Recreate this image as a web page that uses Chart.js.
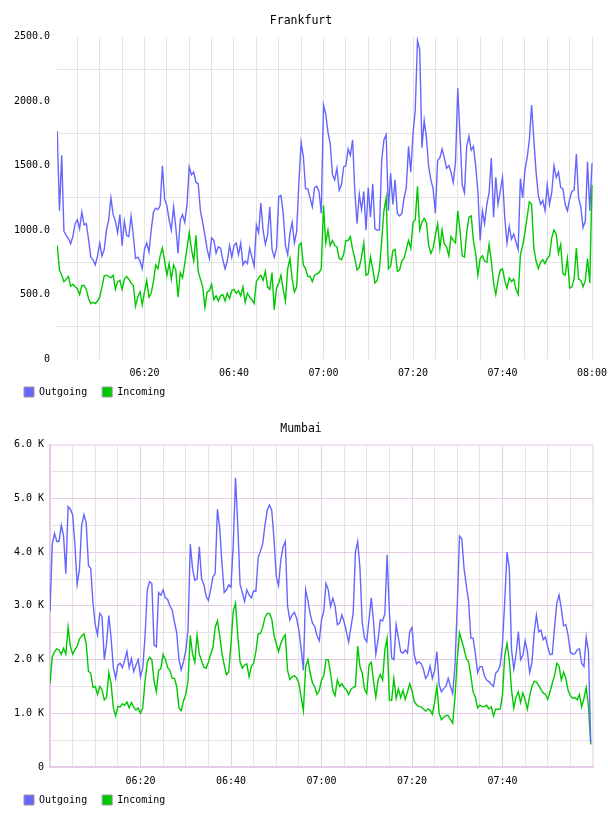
<!DOCTYPE html>
<html>
<head>
<meta charset="utf-8">
<title>Traffic - Frankfurt / Mumbai</title>
<script src="https://cdn.jsdelivr.net/npm/chart.js@4.4.1/dist/chart.umd.min.js"></script>
<style>
  html, body { margin: 0; padding: 0; background: #fff; }
  canvas { display: block; }
</style>
</head>
<body>
<canvas id="chartFrankfurt" width="608" height="408"></canvas>
<canvas id="chartMumbai" width="608" height="408"></canvas>
<script>
// minutes after 06:00, one sample every 30 s
const fraTimes = Array.from({ length: 240 }, (_, i) => 0.5 + i * 0.5);
const mumTimes = Array.from({ length: 240 }, (_, i) => i * 0.5);

const seriesLabels = ["Outgoing", "Incoming"];
const seriesColors = ["#6666ff", "#00c800"];

const fraOut = [
  1770,1150,1580,990,960,935,895,950,1050,1080,
  1010,1140,1040,1050,930,790,770,730,800,900,
  800,850,1000,1080,1250,1120,1070,980,1120,880,
  1070,960,950,1110,960,780,790,760,700,850,
  900,830,1000,1140,1170,1160,1190,1500,1240,1190,
  1080,1000,1180,1020,820,1080,1120,1060,1200,1490,
  1430,1450,1370,1360,1150,1060,960,850,780,940,
  920,820,870,860,770,700,760,880,790,880,
  900,810,900,730,760,740,860,790,720,1040,
  980,1210,1000,890,960,1180,850,790,860,1260,
  1270,1130,880,810,976,1060,900,990,1370,1680,
  1570,1320,1320,1250,1180,1330,1340,1300,1130,1970,
  1900,1760,1670,1430,1390,1480,1310,1350,1490,1500,
  1630,1580,1700,1300,1050,1280,1160,1300,1000,1330,
  1100,1360,1010,1000,1000,1540,1700,1740,1150,1440,
  1200,1390,1130,1110,1130,1250,1330,1650,1450,1750,
  1930,2470,2400,1640,1850,1720,1490,1390,1320,1130,
  1540,1560,1630,1560,1480,1500,1450,1370,1530,2100,
  1740,1350,1290,1650,1730,1620,1650,1500,1300,920,
  1150,1050,1200,1290,1560,1100,1410,1200,1300,1410,
  1100,900,1030,930,970,910,850,1400,1250,1460,
  1560,1700,1970,1700,1450,1270,1200,1230,1150,1350,
  1200,1290,1500,1410,1450,1330,1320,1200,1150,1240,
  1300,1310,1590,1250,1180,1020,1070,1530,1150,1520
];

const fraIn = [
  880,690,650,600,620,640,565,580,560,545,
  500,570,570,540,470,430,440,430,450,480,
  560,645,650,640,630,650,540,600,610,540,
  620,640,620,590,570,410,480,520,420,520,
  610,480,510,600,730,700,800,860,760,650,
  740,620,730,690,480,670,630,740,860,980,
  850,760,960,680,620,560,400,520,530,580,
  460,490,450,490,500,450,510,470,530,540,
  510,530,490,560,440,510,480,460,430,600,
  630,650,610,680,560,540,670,380,550,590,
  650,540,450,700,780,620,520,560,880,900,
  730,700,640,640,600,650,660,670,700,1190,
  900,1000,880,920,880,870,780,770,810,920,
  920,950,850,780,690,710,790,900,650,660,
  790,700,590,610,700,920,1150,1250,700,720,
  840,850,680,690,760,780,850,920,860,1060,
  1080,1340,1000,1060,1090,1060,880,820,860,960,
  1050,860,1000,890,870,800,950,920,900,1150,
  1000,800,790,980,1100,1110,920,820,650,780,
  800,760,750,890,760,590,500,610,690,700,
  610,550,630,600,620,540,500,810,880,980,
  1100,1220,1200,860,760,700,750,770,740,780,
  800,940,1000,970,820,890,660,650,780,550,
  560,620,860,620,610,560,610,780,590,1350
];

const mumOut = [
  2900,4150,4350,4200,4200,4500,4300,3600,4850,4800,
  4700,4150,3400,3670,4500,4700,4550,3750,3700,3050,
  2650,2460,2860,2800,2000,2300,2820,2400,1850,1650,
  1900,1930,1850,1990,2150,1850,2020,1780,1900,2000,
  1680,1850,2430,3300,3450,3420,2270,2240,3250,3200,
  3300,3150,3120,3000,2925,2700,2500,2000,1810,1960,
  2160,2550,4150,3700,3480,3500,4100,3500,3400,3180,
  3100,3300,3540,3600,4800,4450,3800,3250,3300,3390,
  3350,4150,5380,4500,3400,3250,3080,3300,3200,3150,
  3280,3270,3900,4020,4150,4500,4780,4880,4780,4250,
  3550,3380,3850,4100,4200,3000,2740,2830,2880,2770,
  2550,2200,1800,3300,3100,2850,2680,2620,2450,2350,
  2740,2900,3420,3300,2990,3140,3000,2650,2680,2830,
  2700,2520,2330,2600,2860,4000,4200,3700,2700,2400,
  2330,2750,3150,2700,2100,2370,2740,2720,2850,3950,
  2900,2030,2000,2650,2400,2150,2120,2180,2120,2520,
  2600,2090,1920,1960,1930,1830,1650,1710,1880,1650,
  1800,2150,1530,1400,1460,1500,1650,1500,1370,1900,
  3000,4300,4250,3700,3380,3100,2400,2400,2110,1760,
  1870,1870,1700,1620,1590,1540,1500,1750,1790,1900,
  2300,3100,4000,3700,2180,1820,2100,2520,2000,2080,
  2350,2150,1760,1940,2500,2830,2520,2550,2370,2420,
  2240,2090,2100,2600,3050,3200,2950,2630,2650,2450,
  2140,2100,2110,2180,2200,1930,1870,2420,2150,450
];

const mumIn = [
  1550,2050,2150,2200,2180,2100,2210,2100,2600,2250,
  2100,2180,2250,2380,2440,2480,2300,1780,1750,1480,
  1500,1350,1500,1440,1250,1300,1760,1550,1100,950,
  1130,1120,1180,1150,1210,1100,1200,1110,1060,1100,
  1000,1100,1600,1950,2040,2000,1600,1400,1800,1830,
  2100,2000,1850,1800,1650,1650,1500,1100,1050,1230,
  1350,1600,2450,2100,1950,2450,2100,1980,1860,1840,
  1950,2100,2220,2600,2720,2450,2120,1900,1720,1770,
  2300,2900,3050,2450,1960,1840,1900,1920,1680,1880,
  1930,2150,2480,2490,2600,2780,2860,2860,2760,2450,
  2300,2150,2300,2400,2460,1800,1630,1680,1700,1660,
  1560,1300,1050,1870,2000,1750,1560,1500,1350,1420,
  1620,1700,2000,2000,1750,1420,1330,1620,1500,1550,
  1480,1440,1350,1450,1480,1500,2250,1870,1750,1450,
  1370,1900,1950,1600,1300,1620,1720,1620,2180,2400,
  1250,1240,1650,1280,1450,1290,1430,1260,1400,1550,
  1420,1220,1160,1130,1120,1080,1040,1080,1060,980,
  1200,1500,1000,880,920,960,960,880,820,1300,
  2000,2500,2350,2200,2020,1960,1700,1400,1300,1100,
  1150,1120,1130,1150,1080,1120,950,1080,1070,1080,
  1350,2080,2300,2000,1430,1100,1300,1400,1200,1380,
  1250,1080,1320,1500,1600,1580,1520,1440,1380,1350,
  1260,1400,1560,1700,1930,1880,1620,1770,1650,1430,
  1330,1280,1290,1250,1350,1120,1280,1480,1130,420
];

const MONO = "'DejaVu Sans Mono', monospace";
const GRAY = "#e4e4e4";
const PINK = "#e6cce6";

const toClock = (v) => {
  const h = 6 + Math.floor(v / 60);
  const m = Math.round(v % 60);
  return String(h).padStart(2, "0") + ":" + String(m).padStart(2, "0");
};

const renderTraffic = (canvasId, title, times, outData, inData, cfg) => {
  var ctx = document.getElementById(canvasId).getContext("2d");
  const toPoints = (arr) => arr.map((v, i) => ({ x: times[i], y: v }));

  var chart = new Chart(ctx, {
    type: "line",
    data: {
      datasets: [outData, inData].map((arr, k) => ({
        label: seriesLabels[k],
        data: toPoints(arr),
        borderColor: seriesColors[k],
        backgroundColor: seriesColors[k],
        borderWidth: 1.4,
        pointRadius: 0,
        tension: 0,
        fill: false,
      })),
    },
    options: {
      responsive: false,
      animation: false,
      devicePixelRatio: 1,
      layout: { padding: { left: 9, right: cfg.right, top: 0, bottom: 1 } },
      scales: {
        x: {
          type: "linear",
          min: cfg.xMin,
          max: cfg.xMax,
          // short axis box so the legend sits close; mirrored labels are not clipped to it
          afterFit: (scale) => {
            scale.height = 13;
            scale.paddingLeft = 0;
            scale.paddingRight = 0;
          },
          border: { display: cfg.framed, color: PINK, width: 2 },
          grid: {
            drawTicks: false,
            color: (c) => cfg.xGrid(c.tick.value),
            lineWidth: (c) => (cfg.framed && (c.tick.value === 0 || c.tick.value === cfg.xMax) ? 2 : 1),
          },
          ticks: {
            stepSize: 5,
            includeBounds: false,
            autoSkip: false,
            maxRotation: 0,
            mirror: true,
            padding: -20.5,
            color: "#000",
            font: { family: MONO, size: 10 },
            callback: (v) => (v % 20 === 0 && v > 0 && v <= cfg.lastLabel ? toClock(v) : ""),
          },
        },
        y: {
          min: 0,
          max: cfg.yMax,
          afterFit: (scale) => {
            scale.width = cfg.left - 9;
            scale.paddingTop = 0;
            scale.paddingBottom = 0;
          },
          border: { display: cfg.framed, color: PINK, width: 2 },
          grid: {
            drawTicks: false,
            color: (c) => cfg.yGrid(c.tick.value),
            lineWidth: (c) => (cfg.framed && (c.tick.value === 0 || c.tick.value === cfg.yMax) ? 2 : 1),
          },
          ticks: {
            stepSize: cfg.yStep,
            autoSkip: false,
            padding: cfg.yPad,
            color: "#000",
            font: { family: MONO, size: 10 },
            callback: cfg.yLabel,
          },
        },
      },
      plugins: {
        title: {
          display: true,
          text: title,
          color: "#000",
          font: { family: MONO, size: 11.5, weight: "normal" },
          padding: { top: 14, bottom: 9 },
        },
        legend: {
          position: "bottom",
          align: "start",
          labels: {
            boxWidth: 10,
            boxHeight: 10,
            padding: 15,
            color: "#000",
            font: { family: MONO, size: 10 },
            generateLabels: (ch) =>
              Chart.defaults.plugins.legend.labels.generateLabels(ch).map((item) => {
                item.strokeStyle = "#999999";
                item.lineWidth = 1;
                return item;
              }),
          },
        },
        tooltip: { enabled: false },
      },
    },
  });
  return chart;
};

renderTraffic("chartFrankfurt", "Frankfurt", fraTimes, fraOut, fraIn, {
  left: 57,
  right: 15,
  xMin: 0.45,
  xMax: 120.22,
  lastLabel: 120,
  yMax: 2500,
  yStep: 250,
  yPad: 7,
  framed: false,
  xGrid: () => GRAY,
  yGrid: (v) => (v % 500 === 0 ? "rgba(0,0,0,0)" : GRAY),
  yLabel: (v) => (v % 500 !== 0 ? "" : v === 0 ? "0" : v.toFixed(1)),
});

renderTraffic("chartMumbai", "Mumbai", mumTimes, mumOut, mumIn, {
  left: 50,
  right: 15,
  xMin: 0,
  xMax: 120,
  lastLabel: 115,
  yMax: 6000,
  yStep: 500,
  yPad: 6,
  framed: true,
  xGrid: (v) => (v === 0 || v === 120 ? "#f2e2f2" : v % 20 === 0 ? PINK : GRAY),
  yGrid: (v) => (v === 0 || v === 6000 ? "#f2e2f2" : v % 1000 === 0 ? PINK : GRAY),
  yLabel: (v) => (v % 1000 !== 0 ? "" : v === 0 ? "0" : (v / 1000).toFixed(1) + " K"),
});
</script>
</body>
</html>
